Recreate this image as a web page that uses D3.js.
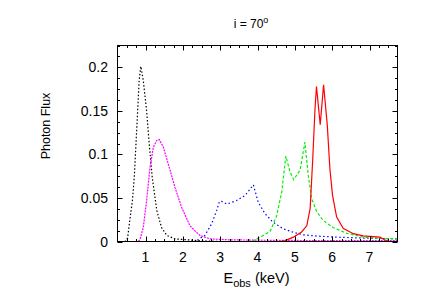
<!DOCTYPE html>
<html>
<head>
<meta charset="utf-8">
<script src="https://cdn.jsdelivr.net/npm/d3@7"></script>
<style>
  body { margin: 0; background: #fff; }
  svg { display: block; font-family: "Liberation Sans", Arial, Helvetica, sans-serif; }
</style>
</head>
<body>
<svg id="chart" width="436" height="305"></svg>
<script>
'use strict';

// energies (keV) and photon flux, one pair per curve
var blackE = [0.25, 0.45, 0.52, 0.59, 0.65, 0.70, 0.745, 0.79, 0.83, 0.875, 0.94, 1.03, 1.10, 1.18, 1.30, 1.43, 1.57, 1.79, 2.1, 2.4, 3.0, 7.75];
var blackF = [0, 0, 0.004, 0.028, 0.047, 0.074, 0.112, 0.150, 0.185, 0.201, 0.185, 0.150, 0.112, 0.074, 0.036, 0.016, 0.007, 0.003, 0.002, 0.001, 0, 0];

var magentaE = [0.25, 0.80, 0.85, 0.94, 1.03, 1.12, 1.21, 1.30, 1.37, 1.48, 1.61, 1.79, 1.97, 2.19, 2.33, 2.46, 2.73, 3.2, 4.0, 5.0, 6.0, 7.0, 7.75];
var magentaF = [0, 0, 0.002, 0.016, 0.047, 0.085, 0.108, 0.116, 0.117, 0.108, 0.089, 0.062, 0.039, 0.018, 0.012, 0.007, 0.003, 0.002, 0.0015, 0.0012, 0.001, 0.001, 0.001];

var blueE = [0.25, 2.3, 2.37, 2.59, 2.77, 2.91, 2.98, 3.04, 3.18, 3.44, 3.67, 3.89, 4.02, 4.2, 4.42, 4.69, 5.0, 5.23, 5.6, 6.1, 6.8, 7.75];
var blueF = [0, 0, 0.001, 0.007, 0.020, 0.036, 0.046, 0.046, 0.043, 0.047, 0.053, 0.065, 0.045, 0.032, 0.022, 0.0146, 0.010, 0.0077, 0.0062, 0.005, 0.004, 0.003];

var greenE = [0.25, 3.85, 3.98, 4.2, 4.34, 4.51, 4.65, 4.76, 4.87, 4.97, 5.14, 5.27, 5.36, 5.45, 5.59, 5.76, 6.03, 6.39, 6.83, 7.3, 7.75];
var greenF = [0, 0, 0.003, 0.008, 0.012, 0.029, 0.057, 0.098, 0.080, 0.071, 0.082, 0.114, 0.076, 0.049, 0.034, 0.024, 0.016, 0.0095, 0.005, 0.0035, 0.003];

var redE = [0.25, 4.6, 4.74, 4.96, 5.18, 5.32, 5.41, 5.48, 5.54, 5.58, 5.68, 5.77, 5.87, 5.94, 6.01, 6.12, 6.3, 6.57, 6.83, 7.28, 7.4, 7.5, 7.75];
var redF = [0, 0, 0.001, 0.005, 0.011, 0.018, 0.038, 0.095, 0.152, 0.178, 0.134, 0.180, 0.133, 0.083, 0.053, 0.028, 0.015, 0.009, 0.0065, 0.005, 0.002, 0, 0];

var xTicks = [1, 2, 3, 4, 5, 6, 7];
var yTicks = [0, 0.05, 0.1, 0.15, 0.2];
var yTickLabels = ['0', '0.05', '0.1', '0.15', '0.2'];

(function () {
  var series = [
    { e: blackE, f: blackF, color: '#000000', dash: '1.5,2' },
    { e: magentaE, f: magentaF, color: '#ff00ff', dash: '2,1' },
    { e: blueE, f: blueF, color: '#0000ff', dash: '1.5,2.5' },
    { e: greenE, f: greenF, color: '#00f000', dash: '3,2' },
    { e: redE, f: redF, color: '#ff0000', dash: null }
  ];

  var left = 117.5, right = 397.5, plotTop = 45.5, bottom = 241.5;

  var svg = d3.select('#chart');

  var x = d3.scaleLinear().domain([0.25, 7.75]).range([left, right]);
  var y = d3.scaleLinear().domain([0, 0.225]).range([bottom, plotTop]);

  svg.append('clipPath').attr('id', 'plotclip')
    .append('rect')
    .attr('x', left).attr('y', plotTop)
    .attr('width', right - left).attr('height', bottom - plotTop);

  var line = d3.line()
    .x(function (d) { return x(d[0]); })
    .y(function (d) { return y(d[1]); });

  svg.append('g')
    .attr('clip-path', 'url(#plotclip)')
    .selectAll('path')
    .data(series)
    .enter()
    .append('path')
    .attr('d', function (s) { return line(d3.zip(s.e, s.f)); })
    .attr('fill', 'none')
    .attr('stroke', function (s) { return s.color; })
    .attr('stroke-width', 1.2)
    .attr('stroke-dasharray', function (s) { return s.dash; });

  // ticks on all four sides, pointing inward
  var ticks = svg.append('g').attr('stroke', '#000').attr('stroke-width', 1);

  d3.range(0.5, 7.75, 0.25).forEach(function (v) {
    var major = Math.abs(v - Math.round(v)) < 1e-6;
    var len = major ? 5 : 2.5;
    var px = Math.round(x(v)) + 0.5;
    ticks.append('line').attr('x1', px).attr('x2', px).attr('y1', bottom).attr('y2', bottom - len);
    ticks.append('line').attr('x1', px).attr('x2', px).attr('y1', plotTop).attr('y2', plotTop + len);
  });

  d3.range(0, 0.2251, 0.0125).forEach(function (v, i) {
    var len = i % 4 === 0 ? 5 : 2.5;
    var py = Math.round(y(v)) + 0.5;
    ticks.append('line').attr('x1', left).attr('x2', left + len).attr('y1', py).attr('y2', py);
    ticks.append('line').attr('x1', right).attr('x2', right - len).attr('y1', py).attr('y2', py);
  });

  svg.append('rect')
    .attr('x', left).attr('y', plotTop)
    .attr('width', right - left).attr('height', bottom - plotTop)
    .attr('fill', 'none')
    .attr('stroke', '#000')
    .attr('stroke-width', 1);

  svg.append('g')
    .selectAll('text')
    .data(xTicks)
    .enter()
    .append('text')
    .attr('x', function (d) { return x(d); })
    .attr('y', 262)
    .attr('text-anchor', 'middle')
    .attr('font-size', 14)
    .text(function (d) { return d; });

  svg.append('g')
    .selectAll('text')
    .data(yTicks)
    .enter()
    .append('text')
    .attr('x', 108)
    .attr('y', function (d) { return y(d) + 5; })
    .attr('text-anchor', 'end')
    .attr('font-size', 14)
    .text(function (d, i) { return yTickLabels[i]; });

  var title = svg.append('text')
    .attr('x', 251)
    .attr('y', 28)
    .attr('text-anchor', 'middle')
    .attr('font-size', 12);
  title.append('tspan').text('i = 70');
  title.append('tspan').attr('dy', -5).attr('font-size', 9).text('o');

  var xlab = svg.append('text')
    .attr('x', 256.5)
    .attr('y', 283)
    .attr('text-anchor', 'middle')
    .attr('font-size', 14.5);
  xlab.append('tspan').text('E');
  xlab.append('tspan').attr('dy', 4).attr('font-size', 11).text('obs');
  xlab.append('tspan').attr('dy', -4).text(' (keV)');

  svg.append('text')
    .attr('transform', 'translate(50,126) rotate(-90)')
    .attr('text-anchor', 'middle')
    .attr('font-size', 12.5)
    .text('Photon Flux');
})();
</script>
</body>
</html>
